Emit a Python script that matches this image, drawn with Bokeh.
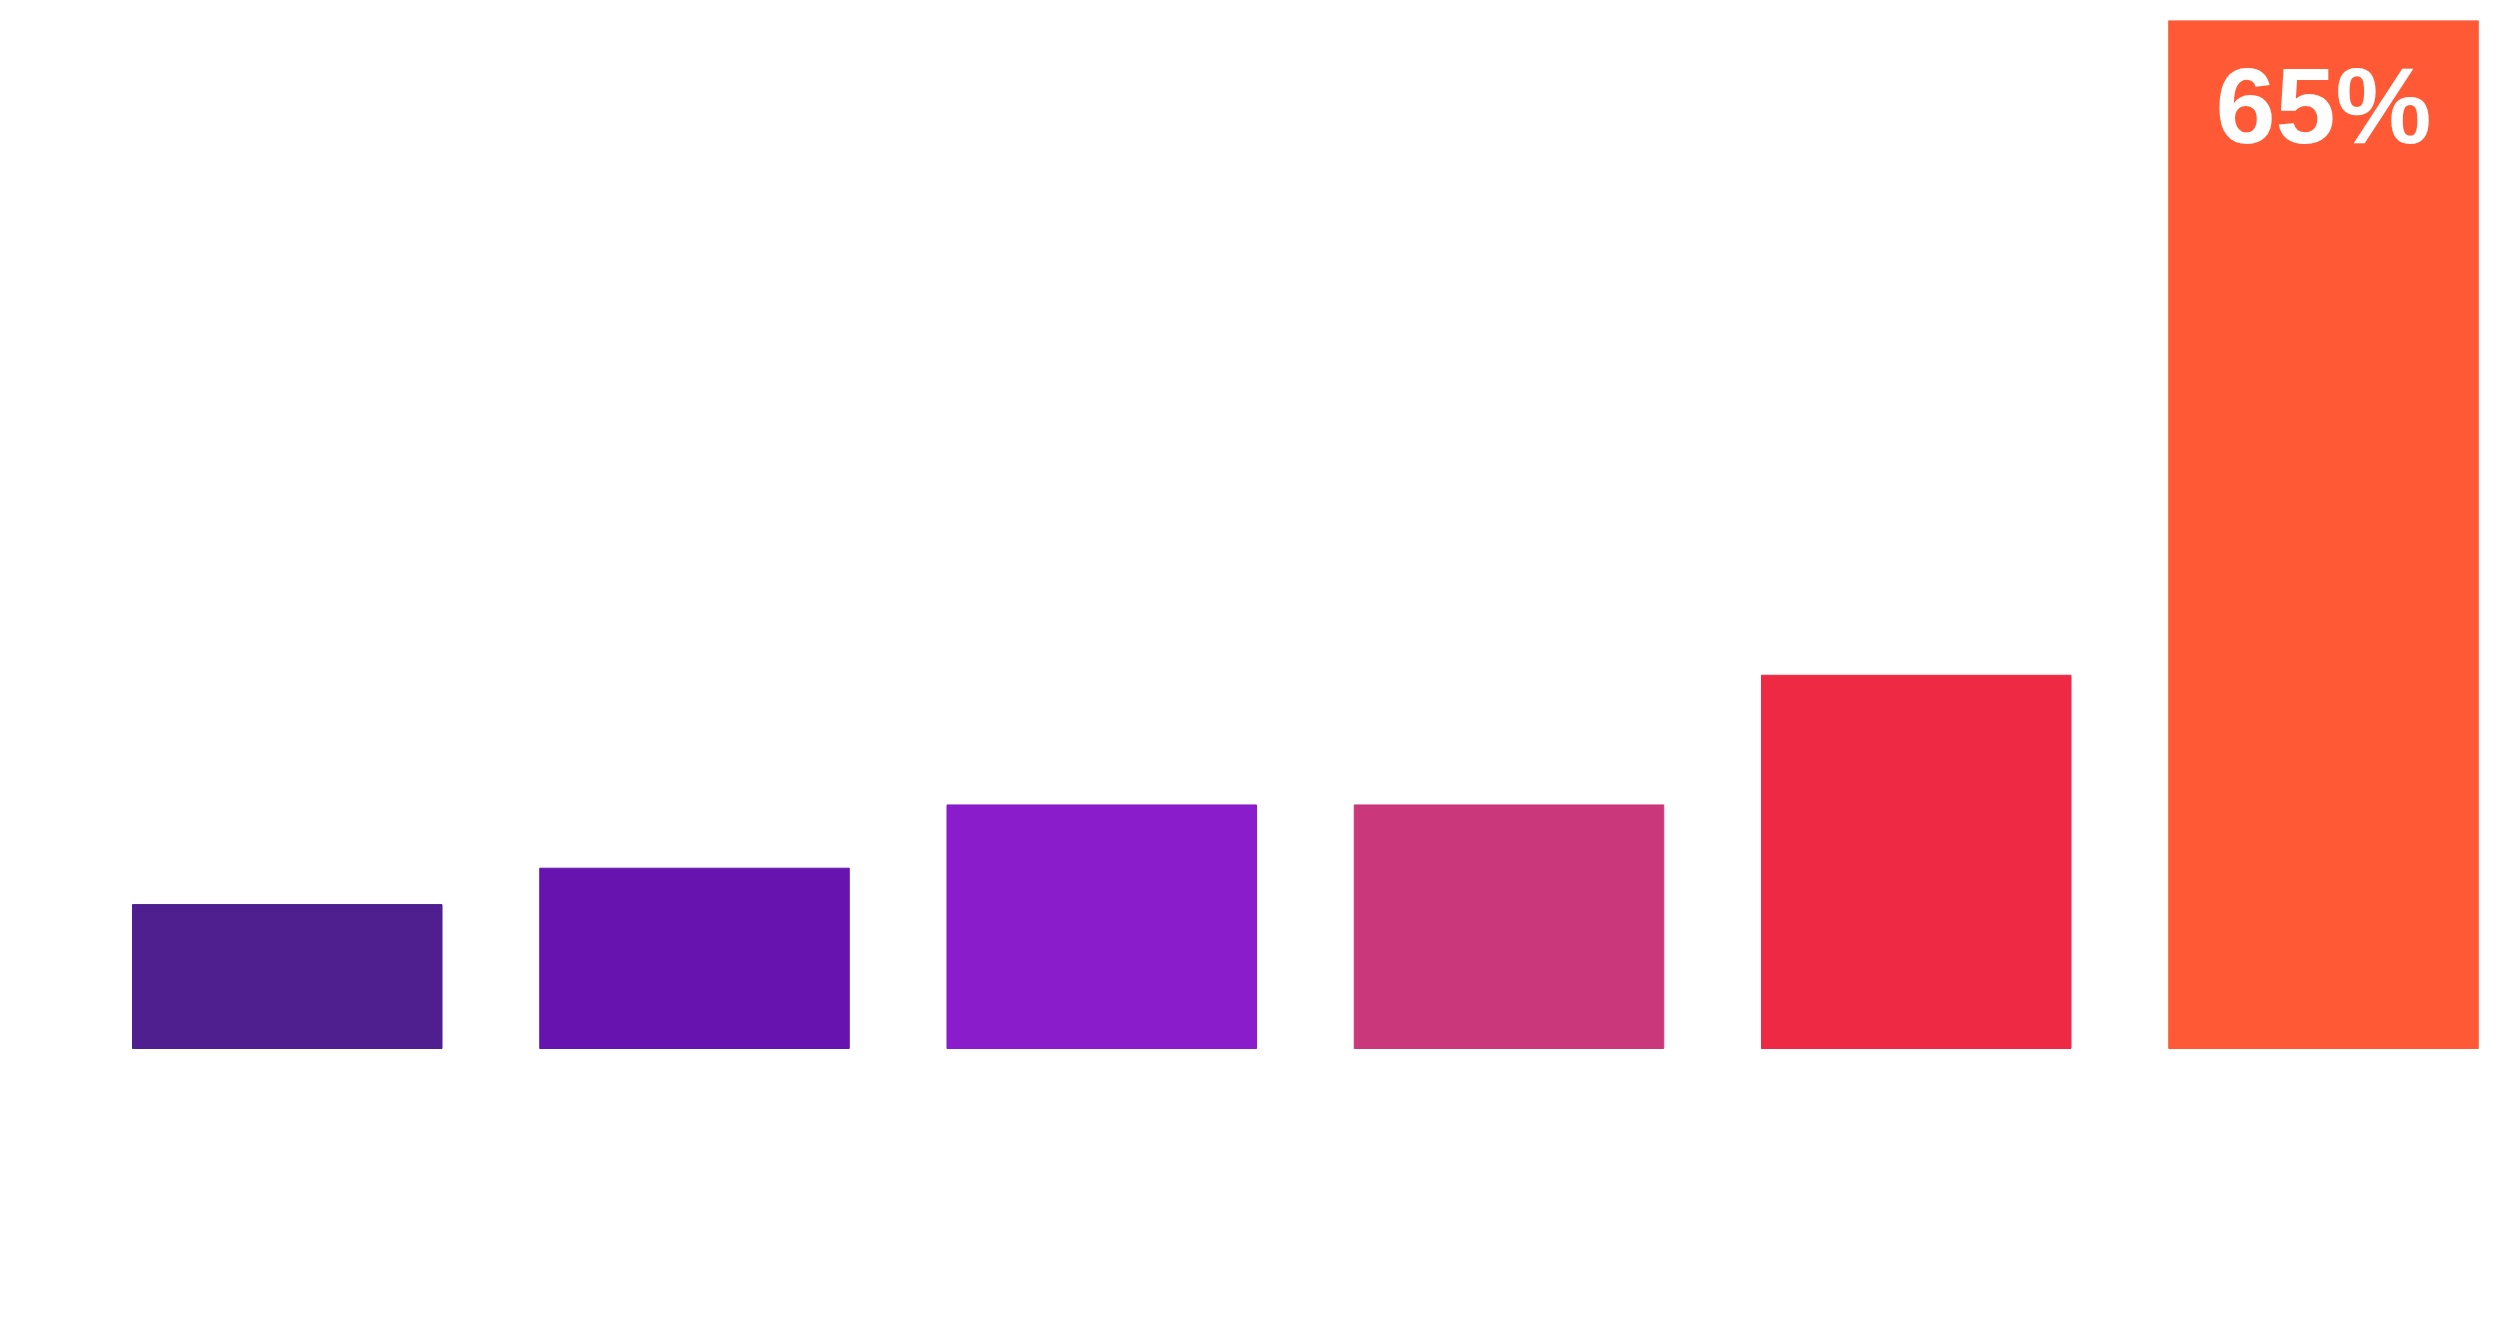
from bokeh.plotting import figure
from bokeh.models import ColumnDataSource, Range1d
from bokeh.core.properties import value
from bokeh.embed import file_html
from bokeh.resources import INLINE

# Data
categories = ["A", "B", "C", "D", "E", "F"]
values = [9.1, 11.4, 15.4, 15.4, 23.6, 65]
colors = ["#4F1E8F", "#6713AF", "#8A1CCB", "#CA377B", "#EE2944", "#FF5A35"]
label_index = 5

xs = list(range(len(categories)))
src = ColumnDataSource(dict(x=xs, top=values, color=colors, cat=categories))

p = figure(width=2492, height=1310, output_backend="svg", toolbar_location=None,
           x_range=Range1d(-0.6845, 5.415), y_range=Range1d(-16.06, 65),
           min_border_left=8, min_border_right=0, min_border_top=20, min_border_bottom=8)

p.vbar(x="x", top="top", bottom=0, width=0.76, fill_color="color", line_color="color",
       line_width=1, source=src)

lbl = ColumnDataSource(dict(x=[xs[label_index]], y=[values[label_index]],
                            t=[f"{values[label_index]:g}%"]))
p.text(x="x", y="y", text="t", source=lbl, text_color="white",
       text_font=value("Liberation Sans"), text_font_style="bold",
       text_font_size="108px", text_align="center", text_baseline="alphabetic",
       y_offset=85)

p.axis.visible = False
p.grid.visible = False
p.outline_line_color = None
p.background_fill_color = "white"
p.border_fill_color = "white"

open("out.html", "w").write(file_html(p, INLINE))
